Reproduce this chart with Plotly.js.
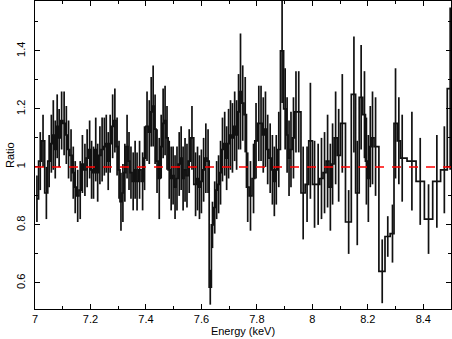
<!DOCTYPE html>
<html>
<head>
<meta charset="utf-8">
<script src="https://cdn.plot.ly/plotly-3.0.1.min.js"></script>
<style>
  html, body { margin: 0; padding: 0; background: #fff; }
  #plot { width: 452px; height: 339px; }
</style>
</head>
<body>
<div id="plot"></div>
<script>
// bin centres (keV), data/model ratio and 1-sigma errors
var energy = [
  7.007, 7.019, 7.029, 7.041, 7.051, 7.059, 7.066, 7.073, 7.080, 7.087,
  7.096, 7.105, 7.113, 7.121, 7.130, 7.138, 7.145, 7.154, 7.163, 7.171,
  7.180, 7.188, 7.197, 7.204, 7.211, 7.219, 7.226, 7.234, 7.242, 7.250,
  7.257, 7.264, 7.271, 7.280, 7.288, 7.296, 7.303, 7.310, 7.317, 7.324,
  7.332, 7.339, 7.346, 7.354, 7.361, 7.368, 7.377, 7.388, 7.395, 7.404,
  7.412, 7.419, 7.426, 7.433, 7.440, 7.448, 7.455, 7.462, 7.469, 7.476,
  7.484, 7.491, 7.498, 7.505, 7.512, 7.520, 7.527, 7.534, 7.541, 7.548,
  7.556, 7.566, 7.579, 7.586, 7.593, 7.600, 7.608, 7.616, 7.624, 7.632,
  7.640, 7.648, 7.655, 7.662, 7.669, 7.676, 7.684, 7.691, 7.698, 7.705,
  7.712, 7.720, 7.727, 7.734, 7.741, 7.749, 7.758, 7.767, 7.777, 7.788,
  7.797, 7.807, 7.815, 7.823, 7.831, 7.839, 7.848, 7.856, 7.863, 7.870,
  7.879, 7.891, 7.902, 7.909, 7.916, 7.923, 7.932, 7.941, 7.951,
  7.967, 7.981, 7.993, 8.008, 8.021, 8.033, 8.044, 8.055, 8.065, 8.073,
  8.084, 8.095, 8.108, 8.131, 8.150, 8.162, 8.176, 8.188, 8.195, 8.202,
  8.209, 8.217, 8.228, 8.252, 8.272, 8.289, 8.300, 8.312, 8.324, 8.359,
  8.389, 8.419, 8.449, 8.476, 8.497
];

var ratio = [
  0.89, 1.02, 1.09, 0.91, 1.02, 1.08, 1.11, 1.06, 1.14, 1.10,
  1.16, 1.15, 1.11, 1.06, 1.04, 0.98, 0.93, 0.90, 0.92, 1.01,
  0.99, 1.03, 1.06, 0.99, 0.98, 1.06, 0.98, 1.04, 1.06, 1.07,
  1.08, 1.02, 1.08, 1.14, 1.16, 1.07, 0.99, 0.88, 0.91, 0.98,
  1.07, 1.02, 0.98, 0.95, 0.99, 0.95, 0.99, 0.95, 1.03, 1.14,
  1.12, 1.19, 1.21, 1.13, 1.02, 0.96, 1.07, 1.15, 1.16, 1.10,
  0.99, 0.96, 0.97, 0.93, 0.96, 1.01, 1.03, 0.96, 0.99, 0.97,
  1.02, 1.10, 0.94, 0.96, 0.93, 0.95, 0.99, 1.03, 1.02, 0.585,
  0.80, 0.86, 0.92, 0.94, 0.98, 1.06, 1.08, 1.03, 1.08, 1.11,
  1.10, 1.14, 1.11, 1.19, 1.26, 1.22, 1.18, 0.93, 0.90, 0.96,
  1.09, 1.15, 1.15, 1.11, 1.13, 1.06, 1.03, 0.99, 0.95, 0.99,
  1.06, 1.40, 1.20, 1.11, 1.03, 1.06, 1.10, 1.19, 1.19,
  0.91, 0.94, 1.09, 0.94, 0.94, 0.96, 0.98, 1.02, 0.93, 1.01,
  1.10, 1.04, 1.15, 0.81, 1.25, 0.91, 1.24, 1.18, 1.02, 0.96,
  1.07, 1.10, 1.07, 0.64, 0.76, 0.77, 1.15, 1.09, 1.03, 1.02,
  0.95, 0.82, 0.95, 0.99, 1.27
];

var ratioErr = [
  0.08, 0.10, 0.09, 0.09, 0.09, 0.10, 0.12, 0.10, 0.11, 0.10,
  0.10, 0.11, 0.10, 0.10, 0.09, 0.09, 0.09, 0.09, 0.10, 0.10,
  0.09, 0.10, 0.10, 0.10, 0.09, 0.11, 0.10, 0.10, 0.11, 0.10,
  0.10, 0.10, 0.10, 0.11, 0.11, 0.10, 0.10, 0.10, 0.10, 0.10,
  0.11, 0.10, 0.09, 0.10, 0.10, 0.10, 0.10, 0.10, 0.11, 0.12,
  0.11, 0.12, 0.14, 0.12, 0.11, 0.14, 0.11, 0.12, 0.12, 0.11,
  0.10, 0.11, 0.10, 0.11, 0.11, 0.11, 0.11, 0.11, 0.11, 0.11,
  0.11, 0.11, 0.11, 0.11, 0.11, 0.11, 0.11, 0.12, 0.11, 0.06,
  0.08, 0.09, 0.10, 0.10, 0.11, 0.11, 0.11, 0.11, 0.12, 0.12,
  0.12, 0.12, 0.12, 0.13, 0.20, 0.13, 0.13, 0.12, 0.12, 0.12,
  0.13, 0.13, 0.13, 0.13, 0.13, 0.12, 0.12, 0.12, 0.12, 0.12,
  0.13, 0.18, 0.14, 0.13, 0.13, 0.13, 0.14, 0.14, 0.14,
  0.16, 0.13, 0.20, 0.15, 0.14, 0.14, 0.14, 0.16, 0.15, 0.14,
  0.16, 0.16, 0.17, 0.11, 0.20, 0.18, 0.18, 0.15, 0.15, 0.15,
  0.14, 0.16, 0.17, 0.11, 0.07, 0.10, 0.19, 0.15, 0.15, 0.17,
  0.15, 0.12, 0.16, 0.15, 0.28
];

var trace = {
  x: energy,
  y: ratio,
  type: 'scatter',
  mode: 'lines',
  line: {color: '#111', width: 1.7, shape: 'hvh'},
  error_y: {type: 'data', array: ratioErr, visible: true, color: '#111', thickness: 1.7, width: 0},
  hoverinfo: 'skip',
  showlegend: false
};

var font = {family: '"Liberation Sans", Arial, sans-serif', size: 11, color: '#000'};

var layout = {
  width: 452,
  height: 339,
  margin: {l: 35, r: 1, t: 1, b: 30},
  paper_bgcolor: '#fff',
  plot_bgcolor: '#fff',
  font: font,
  showlegend: false,
  xaxis: {
    range: [7, 8.5],
    tick0: 7, dtick: 0.2,
    ticks: 'inside', ticklen: 5, tickcolor: '#000', tickwidth: 1,
    minor: {dtick: 0.1, ticks: 'inside', ticklen: 3, tickcolor: '#000'},
    showline: true, linecolor: '#000', linewidth: 1, mirror: 'allticks',
    showgrid: false, zeroline: false,
    tickfont: font,
    title: {text: 'Energy (keV)', font: font, standoff: 2}
  },
  yaxis: {
    range: [0.51, 1.572],
    tick0: 0.6, dtick: 0.2,
    ticks: 'inside', ticklen: 5, tickcolor: '#000', tickwidth: 1,
    minor: {dtick: 0.1, ticks: 'inside', ticklen: 3, tickcolor: '#000'},
    showline: true, linecolor: '#000', linewidth: 1, mirror: 'allticks',
    showgrid: false, zeroline: false,
    tickangle: -90,
    ticklabelstandoff: 5,
    tickfont: font
  },
  annotations: [{
    text: 'Ratio', textangle: -90, showarrow: false,
    xref: 'paper', yref: 'paper', x: -0.06, y: 0.5,
    xanchor: 'center', yanchor: 'middle', font: font
  }],
  shapes: [{
    type: 'line', xref: 'paper', yref: 'y', x0: 0, x1: 1, y0: 1, y1: 1,
    line: {color: '#ff0000', width: 1.5, dash: '9px,8px'},
    layer: 'above'
  }]
};

Plotly.newPlot('plot', [trace], layout, {displayModeBar: false, staticPlot: true});
</script>
</body>
</html>
